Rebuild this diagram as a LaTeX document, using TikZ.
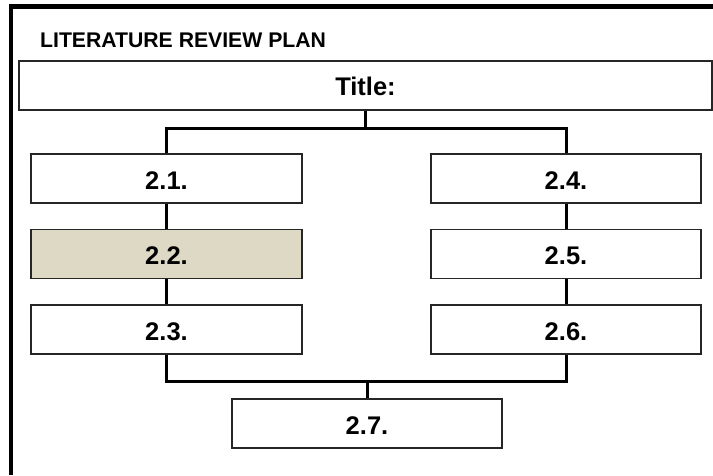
\documentclass[tikz,border=0pt]{standalone}
\usepackage{fontspec}
\setmainfont{Liberation Sans}
\begin{document}
\begin{tikzpicture}[x=1pt,y=-1pt,
  every node/.style={font=\bfseries},
  box/.style={draw=black!85, line width=1.3pt, fill=white, minimum height=49pt,
              inner sep=0pt, font=\fontsize{25.5}{30}\selectfont\bfseries,
              text height=21pt, text depth=0pt},
  shaded/.style={box, fill=tanfill},
  conn/.style={draw=black, line width=3pt},
  frame/.style={draw=black, line width=4.5pt}
]
\definecolor{tanfill}{HTML}{DDD9C4}
\useasboundingbox (0,0) rectangle (713,475);

% outer frame: left edge and top edge only
\draw[frame] (11,475) -- (11,6.5) -- (713,6.5);

% heading
\node[anchor=base west, inner sep=0pt, font=\fontsize{21.2}{25}\selectfont\bfseries]
  (head) at (40,47) {LITERATURE REVIEW PLAN};

% boxes
\node[box, minimum width=693pt, text height=19pt] (title) at (365.5,85.5) {Title:};
\node[box, minimum width=271pt] (b21) at (166.5,178.5) {2.1.};
\node[shaded, minimum width=271pt] (b22) at (166.5,254) {2.2.};
\node[box, minimum width=271pt] (b23) at (166.5,329.5) {2.3.};
\node[box, minimum width=270pt] (b24) at (566,178.5) {2.4.};
\node[box, minimum width=270pt] (b25) at (566,254) {2.5.};
\node[box, minimum width=270pt] (b26) at (566,329.5) {2.6.};
\node[box, minimum width=270pt] (b27) at (367,423.5) {2.7.};

% branch points
\coordinate (top) at (title.south |- 0,128);
\coordinate (bot) at (b27.north |- 0,381);

% connectors
\draw[conn] (title.south) -- (top);
\draw[conn] (b21.north) |- (top) -| (b24.north);
\draw[conn] (b21) -- (b22);
\draw[conn] (b22) -- (b23);
\draw[conn] (b24) -- (b25);
\draw[conn] (b25) -- (b26);
\draw[conn] (b23.south) |- (bot) -| (b26.south);
\draw[conn] (bot) -- (b27.north);
\end{tikzpicture}
\end{document}
